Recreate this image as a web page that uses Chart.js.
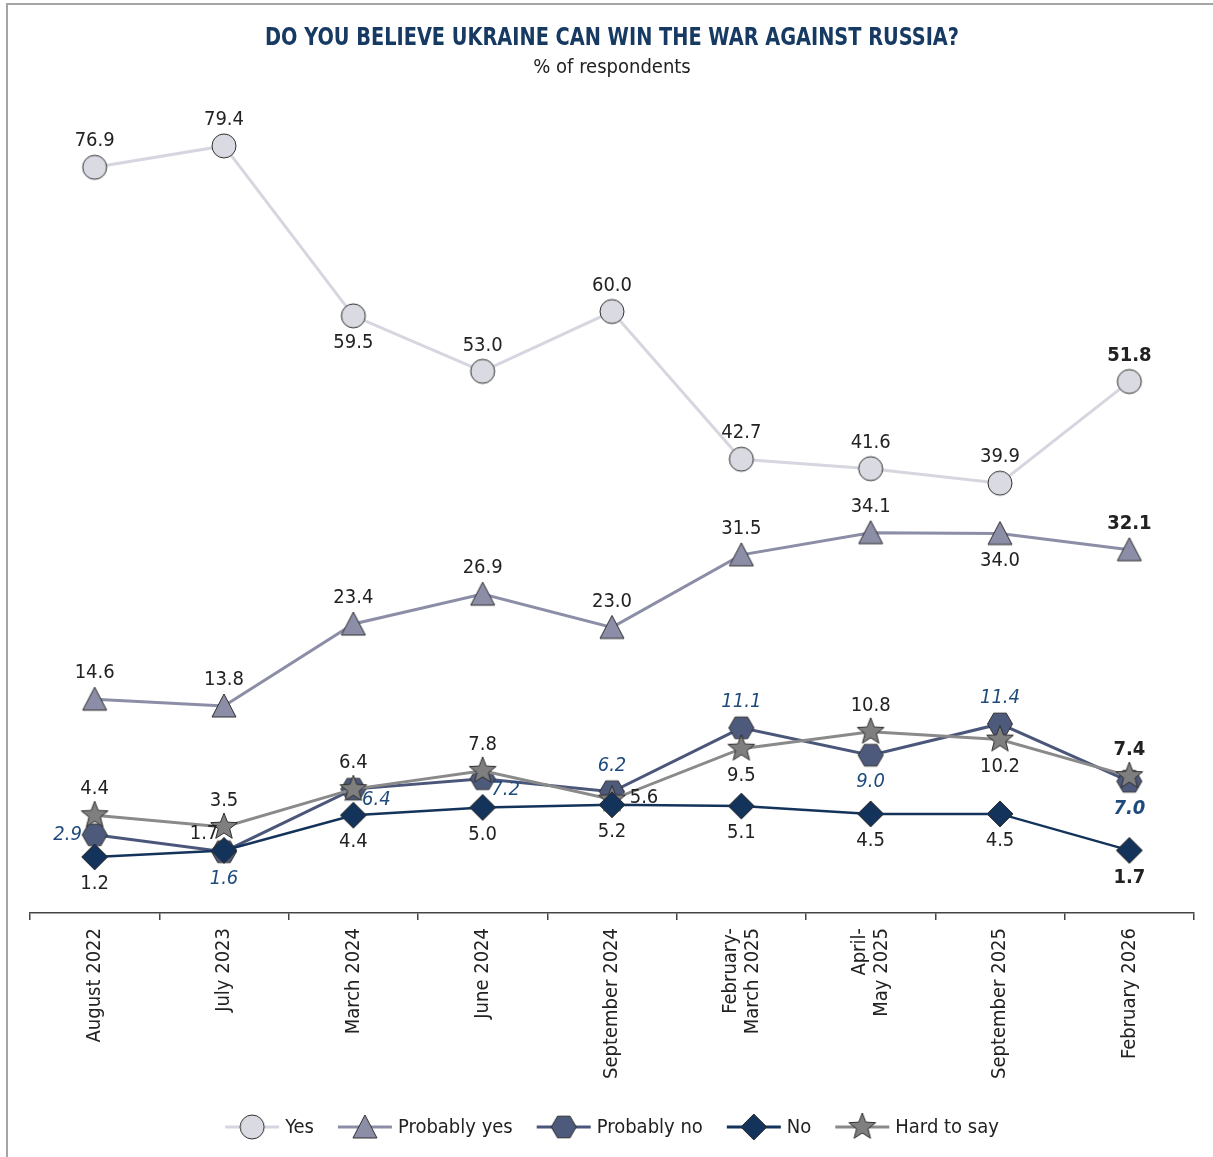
<!DOCTYPE html>
<html><head><meta charset="utf-8">
<script src="https://cdn.jsdelivr.net/npm/chart.js@4.4.1/dist/chart.umd.min.js"></script>
<style>
html,body{margin:0;padding:0;background:#fff;}
#wrap{position:relative;width:1213px;height:1157px;overflow:hidden;background:#fff;}
#frame{position:absolute;left:6px;top:3px;width:1300px;height:1300px;border-top:2px solid #a5a5a5;border-left:2px solid #a5a5a5;}
#c{position:absolute;left:0;top:0;}
</style></head><body>
<div id="wrap"><div id="frame"></div><canvas id="c" width="1213" height="1157"></canvas></div>
<script>
// ---- data ----
const titleText = 'DO YOU BELIEVE UKRAINE CAN WIN THE WAR AGAINST RUSSIA?';
const subtitleText = '% of respondents';
const categories = [['August 2022'], ['July 2023'], ['March 2024'], ['June 2024'], ['September 2024'], ['February-', 'March 2025'], ['April-', 'May 2025'], ['September 2025'], ['February 2026']];
const seriesNames = ['Yes', 'Probably yes', 'Probably no', 'No', 'Hard to say'];
const yesValues = [76.9, 79.4, 59.5, 53.0, 60.0, 42.7, 41.6, 39.9, 51.8];
const probablyYesValues = [14.6, 13.8, 23.4, 26.9, 23.0, 31.5, 34.1, 34.0, 32.1];
const probablyNoValues = [2.9, 1.6, 6.4, 7.2, 6.2, 11.1, 9.0, 11.4, 7.0];
const noValues = [1.2, 1.7, 4.4, 5.0, 5.2, 5.1, 4.5, 4.5, 1.7];
const hardToSayValues = [4.4, 3.5, 6.4, 7.8, 5.6, 9.5, 10.8, 10.2, 7.4];

// ---- label placement (style, not data) ----
const yesPlace = ['a','a','b','a','a','a','a','a','a'];
const probYesPlace = ['a','a','a','a','a','a','a','b','a'];
const probNoPlace = ['l','b','r','r','a','a','b','a','b'];
const noPlace = ['b','ul','b','b','b','b','b','b','b'];
const hardPlace = ['a','a','a','a','rr','b','a','b','a'];
const OFFS = {a:[0,-26], b:[0,27], l:[-27,0], r:[23,11], ul:[-20,-17], rr:[32,-2]};

const FONT = "'DejaVu Sans Condensed', 'Liberation Sans', sans-serif";

function makeMarker(shape, fill) {
  const c = document.createElement('canvas');
  c.width = 34; c.height = 34;
  const g = c.getContext('2d');
  g.translate(17, 17);
  g.beginPath();
  if (shape === 'circle') {
    g.arc(0, 0, 12, 0, Math.PI * 2);
  } else if (shape === 'triangle') {
    g.moveTo(0, -12); g.lineTo(12, 11); g.lineTo(-12, 11);
  } else if (shape === 'hexagon') {
    for (let i = 0; i < 6; i++) {
      const a = i * Math.PI / 3;
      const px = 12.5 * Math.cos(a), py = 12.5 * Math.sin(a);
      if (i === 0) g.moveTo(px, py); else g.lineTo(px, py);
    }
  } else if (shape === 'diamond') {
    g.moveTo(0, -13); g.lineTo(13, 0); g.lineTo(0, 13); g.lineTo(-13, 0);
  } else if (shape === 'star') {
    for (let i = 0; i < 10; i++) {
      const a = -Math.PI / 2 + i * Math.PI / 5;
      const r = i % 2 === 0 ? 14 : 6;
      const px = r * Math.cos(a), py = r * Math.sin(a);
      if (i === 0) g.moveTo(px, py); else g.lineTo(px, py);
    }
  }
  g.closePath();
  g.fillStyle = fill;
  g.fill();
  g.lineWidth = 1;
  g.strokeStyle = '#2e2e2e';
  g.stroke();
  return c;
}

const mYes = makeMarker('circle', '#d9dae2');
const mPY = makeMarker('triangle', '#8b8ea6');
const mPN = makeMarker('hexagon', '#4e5a7c');
const mNo = makeMarker('diamond', '#14335a');
const mHard = makeMarker('star', '#7f7f7f');

const datasets = [
  {label: seriesNames[0], data: yesValues, yAxisID: 'y', borderColor: '#d5d6df', borderWidth: 3, pointStyle: mYes, place: yesPlace, order: 5, lblColor: '#222', lblItalic: false},
  {label: seriesNames[1], data: probablyYesValues, yAxisID: 'y', borderColor: '#8b8ea6', borderWidth: 3, pointStyle: mPY, place: probYesPlace, order: 4, lblColor: '#222', lblItalic: false},
  {label: seriesNames[2], data: probablyNoValues, yAxisID: 'y2', borderColor: '#4b577a', borderWidth: 3, pointStyle: mPN, place: probNoPlace, order: 3, lblColor: '#1e4a7c', lblItalic: true},
  {label: seriesNames[3], data: noValues, yAxisID: 'y2', borderColor: '#14335a', borderWidth: 2.5, pointStyle: mNo, place: noPlace, order: 1, lblColor: '#222', lblItalic: false},
  {label: seriesNames[4], data: hardToSayValues, yAxisID: 'y2', borderColor: '#8a8a8a', borderWidth: 3, pointStyle: mHard, place: hardPlace, order: 2, lblColor: '#222', lblItalic: false}
];
datasets.forEach(d => { d.pointRadius = 12; d.pointHoverRadius = 12; d.tension = 0; d.fill = false; });

const titlePlugin = {
  id: 'titleBlock',
  afterDraw(chart) {
    const ctx = chart.ctx;
    ctx.save();
    ctx.textAlign = 'center';
    ctx.textBaseline = 'middle';
    ctx.fillStyle = '#173a63';
    ctx.font = 'bold 25px ' + FONT;
    ctx.fillText(titleText, 612, 38, 694);
    ctx.fillStyle = '#222';
    ctx.font = '20px ' + FONT;
    ctx.fillText(subtitleText, 612, 68);
    ctx.restore();
  }
};

const xLabelPlugin = {
  id: 'xLabels',
  afterDraw(chart) {
    const ctx = chart.ctx;
    const sx = chart.scales.x;
    ctx.save();
    ctx.fillStyle = '#222';
    ctx.font = '20px ' + FONT;
    ctx.textAlign = 'right';
    ctx.textBaseline = 'middle';
    const lh = 22;
    chart.data.labels.forEach((lines, i) => {
      const x = sx.getPixelForTick(i);
      lines.forEach((ln, j) => {
        const off = (j - (lines.length - 1) / 2) * lh;
        ctx.save();
        ctx.translate(x + off, sx.top + 15);
        ctx.rotate(-Math.PI / 2);
        ctx.fillText(ln, 0, 0);
        ctx.restore();
      });
    });
    ctx.restore();
  }
};

const labelPlugin = {
  id: 'valueLabels',
  afterDatasetsDraw(chart) {
    const ctx = chart.ctx;
    ctx.save();
    ctx.textAlign = 'center';
    ctx.textBaseline = 'middle';
    chart.data.datasets.forEach((ds, di) => {
      const meta = chart.getDatasetMeta(di);
      meta.data.forEach((pt, i) => {
        const last = i === ds.data.length - 1;
        const o = OFFS[ds.place[i]];
        ctx.font = (ds.lblItalic ? 'italic ' : '') + (last ? 'bold ' : '') + '20px ' + FONT;
        ctx.fillStyle = ds.lblColor;
        ctx.fillText(ds.data[i].toFixed(1), pt.x + o[0], pt.y + o[1]);
      });
    });
    ctx.restore();
  }
};

const legendPlugin = {
  id: 'lineLegend',
  afterDraw(chart) {
    const ctx = chart.ctx;
    ctx.save();
    ctx.font = '20px ' + FONT;
    ctx.textBaseline = 'middle';
    const lineW = 54, gap = 6, itemGap = 24, y = 1127;
    const items = chart.data.datasets.map(ds => ({ds, tw: ctx.measureText(ds.label).width}));
    const total = items.reduce((s, it) => s + lineW + gap + it.tw, 0) + itemGap * (items.length - 1);
    let x = 612 - total / 2;
    items.forEach(it => {
      ctx.strokeStyle = it.ds.borderColor;
      ctx.lineWidth = 3;
      ctx.beginPath(); ctx.moveTo(x, y); ctx.lineTo(x + lineW, y); ctx.stroke();
      const m = it.ds.pointStyle;
      ctx.drawImage(m, x + lineW / 2 - m.width / 2, y - m.height / 2);
      ctx.fillStyle = '#222';
      ctx.fillText(it.ds.label, x + lineW + gap, y + 1);
      x += lineW + gap + it.tw + itemGap;
    });
    ctx.restore();
  }
};

new Chart(document.getElementById('c'), {
  type: 'line',
  data: {labels: categories, datasets},
  options: {
    responsive: false,
    animation: false,
    events: [],
    layout: {padding: {left: 30, right: 19, top: 100, bottom: 0}},
    plugins: {
      legend: {display: false},
      tooltip: {enabled: false},
      title: {display: false},
      subtitle: {display: false}
    },
    scales: {
      x: {
        type: 'category', offset: true,
        grid: {offset: true, drawOnChartArea: false, drawTicks: true, tickLength: 7, color: '#444', lineWidth: 1.5},
        border: {display: true, color: '#444', width: 1.5},
        ticks: {display: false, autoSkip: false},
        afterFit(scale) { scale.height = 244; }
      },
      y: {display: false, min: -10.45, max: 84.78},
      y2: {display: false, min: -3.10, max: 59.25}
    }
  },
  plugins: [labelPlugin, titlePlugin, xLabelPlugin, legendPlugin]
});
</script>
</body></html>
